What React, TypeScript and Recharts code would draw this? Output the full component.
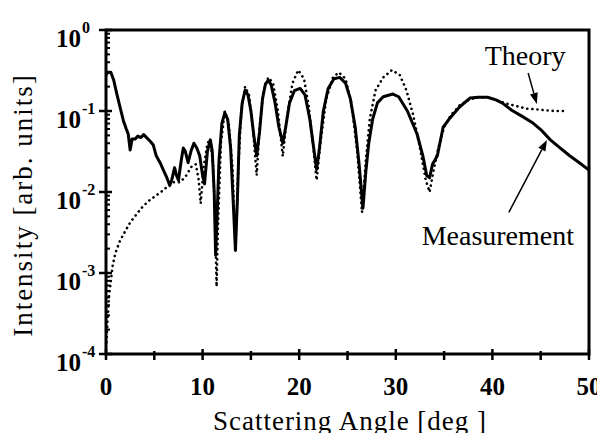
import React from 'react';
import { LineChart, Line, XAxis, YAxis, ReferenceArea, ReferenceLine } from 'recharts';

// measured curve: scattering angle [deg] and intensity
const measAngle = [
  0, 0.2, 0.5, 0.8, 1.1, 1.45, 1.8, 2.1, 2.3, 2.5, 2.7, 3.0, 3.3, 3.6, 3.9, 4.2, 4.6, 4.9,
  5.2, 5.6, 6.0, 6.3, 6.6, 6.8, 7.1, 7.3, 7.5, 7.8, 8.0, 8.2, 8.5, 8.8, 9.1, 9.4, 9.7,
  10.0, 10.2, 10.5, 10.8, 11.0, 11.2, 11.35, 11.5, 11.7, 12.0, 12.3, 12.6, 12.9, 13.2,
  13.4, 13.6, 13.8, 14.1, 14.4, 14.7, 15.0, 15.3, 15.6, 15.9, 16.2, 16.5, 16.8, 17.1,
  17.5, 17.9, 18.3, 18.6, 19.0, 19.5, 20.1, 20.6, 21.1, 21.5, 21.8, 22.1, 22.5, 23.0,
  23.6, 24.2, 24.8, 25.3, 25.8, 26.2, 26.6, 26.9, 27.2, 27.6, 28.1, 28.7, 29.7, 30.3,
  31.2, 32.2, 32.8, 33.2, 33.5, 33.8, 34.3, 34.9, 35.5, 36.6, 37.7, 38.5, 39.5, 40.3,
  41.0, 42.0, 43.0, 44.2, 45.0, 46.0, 47.0, 48.0, 49.0, 50.0,
];
const measIntensity = [
  0.28, 0.3, 0.3, 0.24, 0.166, 0.112, 0.076, 0.06, 0.052, 0.033, 0.045, 0.045, 0.049, 0.047, 0.051, 0.047, 0.042, 0.038,
  0.028, 0.023, 0.018, 0.015, 0.012, 0.014, 0.02, 0.016, 0.014, 0.025, 0.035, 0.032, 0.023, 0.032, 0.04, 0.035, 0.028,
  0.016, 0.0126, 0.032, 0.044, 0.032, 0.01, 0.00166, 0.005, 0.025, 0.071, 0.095, 0.079, 0.035, 0.0063,
  0.0019, 0.0079, 0.05, 0.126, 0.18, 0.158, 0.1, 0.05, 0.028, 0.056, 0.141, 0.214, 0.24, 0.21,
  0.126, 0.063, 0.04, 0.063, 0.126, 0.178, 0.19, 0.158, 0.079, 0.035, 0.019, 0.035, 0.1, 0.19,
  0.25, 0.26, 0.22, 0.141, 0.063, 0.022, 0.0063, 0.018, 0.04, 0.079, 0.126, 0.15, 0.162, 0.15,
  0.1, 0.052, 0.028, 0.016, 0.015, 0.022, 0.028, 0.063, 0.079, 0.112, 0.145, 0.148, 0.148, 0.138,
  0.126, 0.102, 0.087, 0.071, 0.059, 0.044, 0.035, 0.028, 0.023, 0.0186,
];

// theory curve
const theoryAngle = [
  0.05, 0.15, 0.3, 0.5, 0.7, 1.0, 1.45, 2.0, 2.5, 3.2, 3.8, 4.5, 5.1, 5.6, 6.3, 7.0, 7.7,
  8.3, 8.9, 9.3, 9.6, 9.8, 10.1, 10.5, 10.8, 11.1, 11.3, 11.45, 11.6, 11.9, 12.3, 12.7,
  13.1, 13.4, 13.7, 14.0, 14.4, 14.8, 15.2, 15.6, 15.9, 16.3, 16.8, 17.3, 17.8, 18.3,
  18.7, 19.3, 19.9, 20.5, 21.0, 21.5, 21.8, 22.2, 22.8, 23.5, 24.1, 24.8, 25.4, 26.0,
  26.5, 26.9, 27.3, 27.9, 28.7, 29.6, 30.4, 31.1, 31.8, 32.5, 33.1, 33.5, 33.9, 34.4,
  35.0, 35.7, 36.6, 37.6, 38.5, 39.5, 40.5, 41.5, 42.5, 43.5, 44.5, 45.5, 46.5, 47.7,
];
const theoryIntensity = [
  0.00014, 0.00025, 0.0005, 0.00079, 0.00126, 0.0018, 0.0025, 0.0033, 0.0042, 0.0054, 0.0066, 0.0079, 0.0089, 0.0098, 0.0115, 0.0132, 0.0132,
  0.016, 0.021, 0.022, 0.014, 0.0072, 0.02, 0.04, 0.045, 0.02, 0.004, 0.00068, 0.004, 0.04, 0.1, 0.071,
  0.02, 0.002, 0.02, 0.1, 0.2, 0.158, 0.063, 0.016, 0.063, 0.178, 0.26, 0.22, 0.1, 0.0275,
  0.079, 0.22, 0.32, 0.25, 0.112, 0.032, 0.014, 0.04, 0.141, 0.26, 0.3, 0.25, 0.126, 0.032,
  0.0056, 0.025, 0.079, 0.18, 0.26, 0.32, 0.28, 0.18, 0.089, 0.035, 0.014, 0.01, 0.018, 0.035,
  0.063, 0.089, 0.117, 0.138, 0.148, 0.148, 0.135, 0.123, 0.115, 0.107, 0.105, 0.102, 0.1, 0.1,
];

const xTicks = [0, 5, 10, 15, 20, 25, 30, 35, 40, 45, 50];
const yMajor = [1e-4, 1e-3, 1e-2, 1e-1, 1];
const yExponents = ['-4', '-3', '-2', '-1', '0'];

const measData = measAngle.map((x, i) => ({ x, y: measIntensity[i] }));
const theoryData = theoryAngle.map((x, i) => ({ x, y: theoryIntensity[i] }));

// minor log ticks 2..9 in every decade
const yMinor: number[] = [];
yMajor.slice(0, 4).forEach((d) => {
  for (let k = 2; k <= 9; k++) yMinor.push(+(d * k).toPrecision(3));
});
const yTicks = [...yMajor, ...yMinor];

const FONT = '"Liberation Serif", "DejaVu Serif", serif';

const YTick = ({ x, y, payload }: any) => {
  const idx = yMajor.indexOf(payload.value);
  if (idx < 0) {
    return <line x1={x} x2={x + 4} y1={y} y2={y} stroke="#000" strokeWidth={2} />;
  }
  return (
    <g fontFamily={FONT} fill="#000">
      <line x1={x - 7} x2={x + 6} y1={y} y2={y} stroke="#000" strokeWidth={2.5} />
      <text x={x - 25} y={y + 17} textAnchor="end" fontSize={25} fontWeight="bold">10</text>
      <text x={x - 24} y={y + 3} fontSize={16} fontWeight="bold">{yExponents[idx]}</text>
    </g>
  );
};

const XTick = ({ x, y, payload }: any) => {
  const major = payload.value % 10 === 0;
  return (
    <g fontFamily={FONT}>
      <line x1={x} x2={x} y1={y - (major ? 5 : 3)} y2={y + 6} stroke="#000" strokeWidth={2.5} />
      {major && (
        <text x={x} y={y + 41} textAnchor="middle" fontSize={25} fontWeight="bold" fill="#000">
          {payload.value}
        </text>
      )}
    </g>
  );
};

// arrow with a text label, endpoints come from the reference segment
const arrowShape = (text: string, dx: number, dy: number) => (props: any) => {
  const { x1, y1, x2, y2 } = props;
  const ang = Math.atan2(y2 - y1, x2 - x1);
  const len = 11;
  const w = 4;
  const bx = x2 - len * Math.cos(ang);
  const by = y2 - len * Math.sin(ang);
  const px = -Math.sin(ang) * w;
  const py = Math.cos(ang) * w;
  return (
    <g>
      <line x1={x1} y1={y1} x2={bx} y2={by} stroke="#000" strokeWidth={1.5} />
      <polygon points={`${x2},${y2} ${bx + px},${by + py} ${bx - px},${by - py}`} fill="#000" />
      <text x={x1 + dx} y={y1 + dy} textAnchor="middle" fontFamily={FONT} fontSize={28} fill="#000">
        {text}
      </text>
    </g>
  );
};

export default function App() {
  return (
    <div style={{ margin: -8, width: 605, height: 441, background: '#fff' }}>
      <LineChart width={605} height={441} margin={{ top: 30, right: 16, bottom: 0, left: 0 }}>
        <XAxis
          dataKey="x"
          type="number"
          domain={[0, 50]}
          ticks={xTicks}
          interval={0}
          height={87}
          axisLine={false}
          tickLine={false}
          tickSize={0}
          tickMargin={0}
          tick={<XTick />}
          allowDataOverflow
        />
        <YAxis
          dataKey="y"
          type="number"
          scale="log"
          domain={[1e-4, 1]}
          ticks={yTicks}
          interval={0}
          width={106}
          axisLine={false}
          tickLine={false}
          tickSize={0}
          tickMargin={0}
          tick={<YTick />}
          allowDataOverflow
        />
        <ReferenceArea x1={0} x2={50} y1={1e-4} y2={1} fill="none" stroke="#000" strokeWidth={3} />
        <Line
          data={theoryData}
          dataKey="y"
          type="linear"
          stroke="#000"
          strokeWidth={2.6}
          strokeDasharray="0.1 5"
          strokeLinecap="round"
          dot={false}
          isAnimationActive={false}
        />
        <Line
          data={measData}
          dataKey="y"
          type="linear"
          stroke="#000"
          strokeWidth={3}
          strokeLinejoin="round"
          dot={false}
          isAnimationActive={false}
        />
        <ReferenceLine
          segment={[{ x: 43.7, y: 0.295 }, { x: 44.6, y: 0.122 }]}
          shape={arrowShape('Theory', -3, -8)}
        />
        <ReferenceLine
          segment={[{ x: 41.7, y: 0.0056 }, { x: 45.65, y: 0.044 }]}
          shape={arrowShape('Measurement', -11, 33)}
        />
        <text
          transform="translate(32,205) rotate(-90)"
          textAnchor="middle"
          fontFamily={FONT}
          fontSize={27}
          letterSpacing={2}
          fill="#000"
        >
          Intensity [arb. units]
        </text>
        <text x={350} y={430} textAnchor="middle" fontFamily={FONT} fontSize={27} letterSpacing={1} fill="#000">
          Scattering Angle [deg ]
        </text>
      </LineChart>
    </div>
  );
}
